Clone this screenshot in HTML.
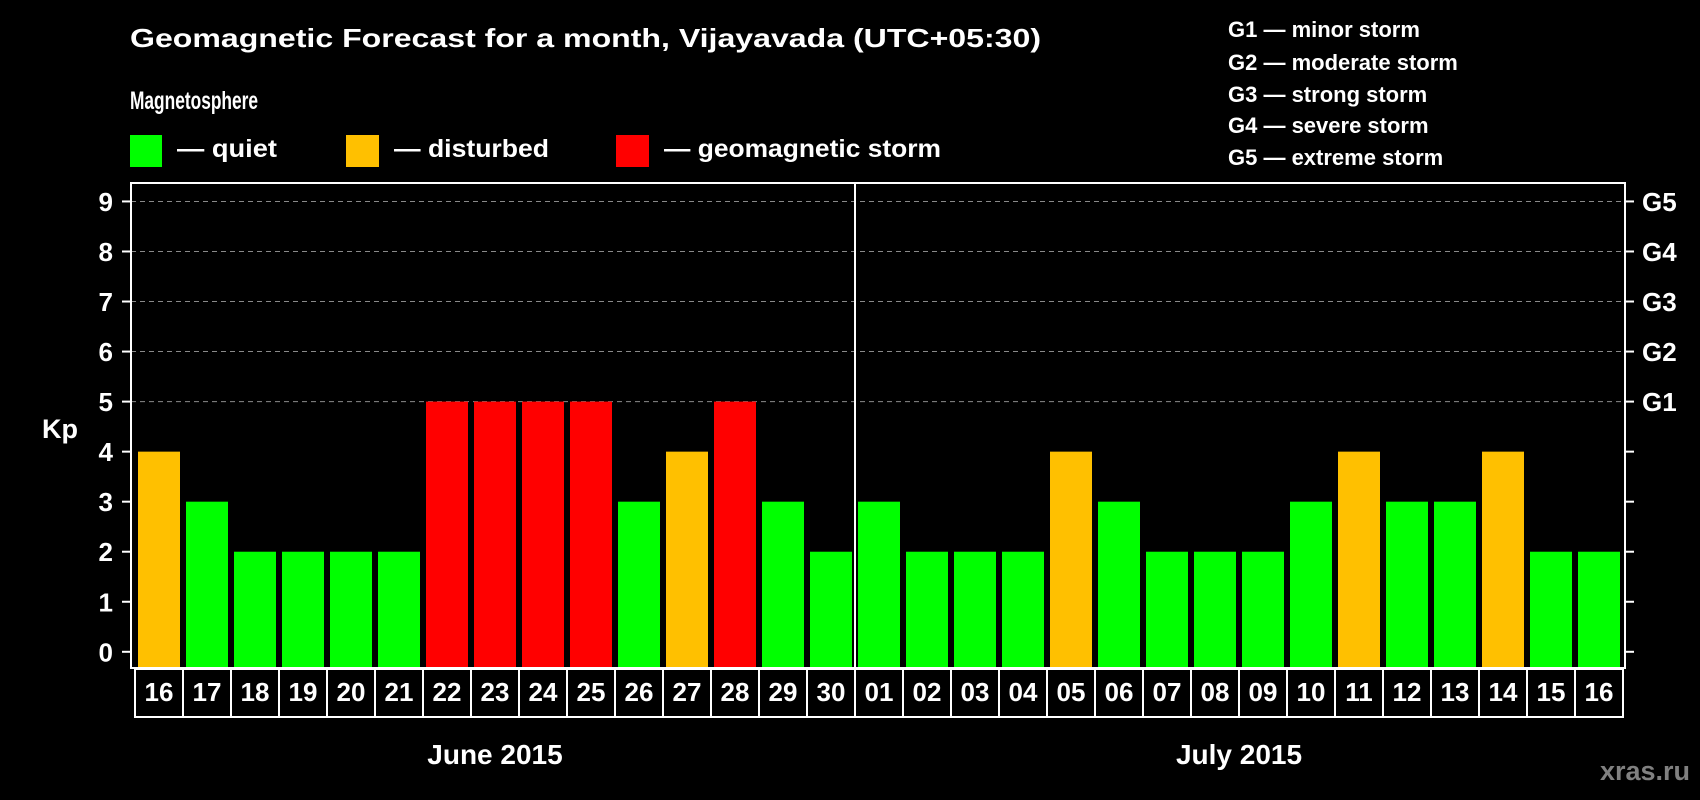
<!DOCTYPE html>
<html><head><meta charset="utf-8"><style>
html,body{margin:0;padding:0;background:#000;}
svg{display:block;font-family:"Liberation Sans",Arial,sans-serif;font-weight:bold;}
</style></head><body>
<svg id="chart" width="1700" height="800" viewBox="0 0 1700 800" xmlns="http://www.w3.org/2000/svg">
<rect x="0" y="0" width="1700" height="800" fill="#000"/>
<text x="130" y="47" fill="#fff" font-size="26" textLength="911" lengthAdjust="spacingAndGlyphs">Geomagnetic Forecast for a month, Vijayavada (UTC+05:30)</text>
<text x="130" y="109" fill="#fff" font-size="25" textLength="128" lengthAdjust="spacingAndGlyphs">Magnetosphere</text>
<g>
<rect x="130" y="135" width="32" height="32" fill="#00ff00"/>
<text x="177" y="157" fill="#fff" font-size="25" textLength="100" lengthAdjust="spacingAndGlyphs">— quiet</text></g>
<g>
<rect x="346" y="135" width="33" height="32" fill="#ffc000"/>
<text x="394" y="157" fill="#fff" font-size="25" textLength="155" lengthAdjust="spacingAndGlyphs">— disturbed</text></g>
<g>
<rect x="616" y="135" width="33" height="32" fill="#ff0000"/>
<text x="664" y="157" fill="#fff" font-size="25" textLength="277" lengthAdjust="spacingAndGlyphs">— geomagnetic storm</text></g>
<g fill="#fff" font-size="22">
<text x="1228" y="37">G1 — minor storm</text>
<text x="1228" y="70">G2 — moderate storm</text>
<text x="1228" y="102">G3 — strong storm</text>
<text x="1228" y="133">G4 — severe storm</text>
<text x="1228" y="165">G5 — extreme storm</text>
</g>
<g id="grid"></g>
<g id="bars"></g>
<g id="axes"></g>
<text x="42" y="438" fill="#fff" font-size="27">Kp</text>
<text x="495" y="764" fill="#fff" font-size="28" text-anchor="middle">June 2015</text>
<text x="1239" y="764" fill="#fff" font-size="28" text-anchor="middle">July 2015</text>
<text x="1690" y="780" fill="#808080" font-size="27" text-anchor="end">xras.ru</text>
</svg>
<script>
const days = ["16","17","18","19","20","21","22","23","24","25","26","27","28","29","30","01","02","03","04","05","06","07","08","09","10","11","12","13","14","15","16"];
const kpValues = [4,3,2,2,2,2,5,5,5,5,3,4,5,3,2,3,2,2,2,4,3,2,2,2,3,4,3,3,4,2,2];
const yTicks = [0,1,2,3,4,5,6,7,8,9];
const gLabels = ["G1","G2","G3","G4","G5"];
const gLevels = [5,6,7,8,9];
const juneCount = 15;

const NS = "http://www.w3.org/2000/svg";
const plotL = 131, plotR = 1625, plotT = 183, plotB = 668;
const band0 = 135, bandW = 48;
function yScale(v){ return 651.8 - v * 50.04; }
function xBand(i){ return band0 + i * bandW; }
function colorFor(v){ return v >= 5 ? "#ff0000" : (v === 4 ? "#ffc000" : "#00ff00"); }
function mk(tag, attrs, parent){
  const el = document.createElementNS(NS, tag);
  for (const k in attrs) el.setAttribute(k, attrs[k]);
  parent.appendChild(el);
  return el;
}
const grid = document.getElementById("grid");
const bars = document.getElementById("bars");
const axes = document.getElementById("axes");

gLevels.forEach((lv) => {
  const ln = mk("line", {x1: plotL, x2: plotR, y1: yScale(lv), y2: yScale(lv), stroke: "#8a8a8a", "stroke-width": 1, "stroke-dasharray": "5,4"}, grid);
  
  
});

kpValues.forEach((v, i) => {
  const x = xBand(i) + 3;
  const r = mk("rect", {x: x, y: yScale(v), width: 42, height: plotB - yScale(v), fill: colorFor(v)}, bars);
  
  
});

// plot frame
const frame = mk("rect", {x: plotL, y: plotT, width: plotR - plotL, height: plotB - plotT, fill: "none", stroke: "#fff", "stroke-width": 2}, axes);


const divX = xBand(juneCount);
const dv = mk("line", {x1: divX, x2: divX, y1: plotT, y2: plotB, stroke: "#fff", "stroke-width": 2}, axes);



yTicks.forEach((t) => {
  const y = yScale(t);
  const tl = mk("line", {x1: 122, x2: plotL, y1: y, y2: y, stroke: "#fff", "stroke-width": 2}, axes);
  
  
  const tr = mk("line", {x1: plotR, x2: 1634, y1: y, y2: y, stroke: "#fff", "stroke-width": 2}, axes);
  
  
  const tx = mk("text", {x: 113, y: y + 9.5, fill: "#fff", "font-size": 26, "text-anchor": "end"}, axes);
  tx.textContent = String(t);
  
  
});

gLabels.forEach((g, i) => {
  const tx = mk("text", {x: 1642, y: yScale(gLevels[i]) + 9.5, fill: "#fff", "font-size": 26}, axes);
  tx.textContent = g;
  
  
});

days.forEach((d, i) => {
  const x = xBand(i);
  const bx = mk("rect", {x: x, y: 669, width: bandW, height: 48, fill: "#000", stroke: "#fff", "stroke-width": 2}, axes);
  
  
  const tx = mk("text", {x: x + bandW / 2, y: 701, fill: "#fff", "font-size": 26, "text-anchor": "middle"}, axes);
  tx.textContent = d;
  
  
});
</script>
</body></html>
